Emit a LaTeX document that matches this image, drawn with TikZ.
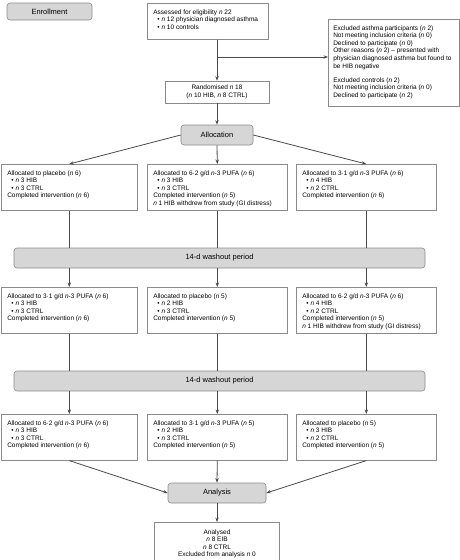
\documentclass[tikz,border=0pt]{standalone}
\usepackage{fontspec}
\setmainfont{Liberation Sans}
\usetikzlibrary{arrows.meta}
\definecolor{boxc}{HTML}{8A8A8A}
\definecolor{arrc}{HTML}{4A4A4A}
\definecolor{gfill}{HTML}{D6D6D6}
\definecolor{gbord}{HTML}{8C8C8C}
\newcommand{\fs}{\fontsize{6.5}{7.6}\selectfont}
\newcommand{\fl}{\fontsize{7.5}{9}\selectfont}
\newcommand{\nn}{\textit{n}}
\newcommand{\bul}{\hspace*{4pt}\textbullet\hspace{2pt}}
\newcommand{\tb}[3]{\parbox[c][#1][t]{#2}{\fs\raggedright #3}}
\tikzset{
  wbox/.style={draw=boxc, line width=0.6pt, fill=white, anchor=north west, inner xsep=6pt, inner ysep=6pt, align=left, font=\fs},
  gbox/.style={draw=gbord, fill=gfill, rounded corners=3pt, line width=0.6pt, font=\fl, inner sep=0pt},
  arr/.style={draw=arrc, line width=0.8pt, -{Stealth[length=4.5pt,width=3.4pt]}},
  ln/.style={draw=arrc, line width=0.8pt}
}
\begin{document}
\begin{tikzpicture}[x=1pt,y=-1pt]
\useasboundingbox[fill=white] (0,0) rectangle (460,560);

% Enrollment
\node[gbox, minimum width=85pt, minimum height=17pt] (enr) at (49.5,11.5) {Enrollment};

% Assessed
\node[wbox] (assess) at (147,3) {\tb{24pt}{109pt}{Assessed for eligibility \nn\ 22\\
\bul\nn\ 12 physician diagnosed asthma\\
\bul\nn\ 10 controls}};

% Excluded
\node[wbox, inner xsep=5pt] (excl) at (328,19) {\tb{75pt}{121pt}{Excluded asthma participants (\nn\ 2)\\
Not meeting inclusion criteria (\nn\ 0)\\
Declined to participate (\nn\ 0)\\
Other reasons (\nn\ 2) -- presented with\\
physician diagnosed asthma but found to\\
be HIB negative\\[6.5pt]
Excluded controls (\nn\ 2)\\
Not meeting inclusion criteria (\nn\ 0)\\
Declined to participate (\nn\ 2)}};

% Randomised
\node[draw=boxc, line width=0.6pt, fill=white, minimum width=104pt, minimum height=22pt, align=center, font=\fs, inner sep=0pt] (rand) at (217,92) {Randomised \nn\ 18\\(\nn\ 10 HIB, \nn\ 8 CTRL)};

% Allocation
\node[gbox, minimum width=72pt, minimum height=20pt] (alloc) at (217,135) {Allocation};

% Row 1
\node[wbox] (r1l) at (1,164) {\tb{34pt}{124pt}{Allocated to placebo (\nn\ 6)\\
\bul\nn\ 3 HIB\\
\bul\nn\ 3 CTRL\\
Completed intervention (\nn\ 6)}};
\node[wbox] (r1m) at (147,164) {\tb{34pt}{128pt}{Allocated to 6·2 g/d \nn-3 PUFA (\nn\ 6)\\
\bul\nn\ 3 HIB\\
\bul\nn\ 3 CTRL\\
Completed intervention (\nn\ 5)\\
\nn\ 1 HIB withdrew from study (GI distress)}};
\node[wbox] (r1r) at (296,164) {\tb{34pt}{128pt}{Allocated to 3·1 g/d \nn-3 PUFA (\nn\ 6)\\
\bul\nn\ 4 HIB\\
\bul\nn\ 2 CTRL\\
Completed intervention (\nn\ 6)}};

% Washout 1
\node[gbox, minimum width=411pt, minimum height=20pt] (w1) at (219.5,258) {14-d washout period};

% Row 2
\node[wbox] (r2l) at (1,287) {\tb{34pt}{124pt}{Allocated to 3·1 g/d \nn-3 PUFA (\nn\ 6)\\
\bul\nn\ 3 HIB\\
\bul\nn\ 3 CTRL\\
Completed intervention (\nn\ 6)}};
\node[wbox] (r2m) at (147,287) {\tb{34pt}{128pt}{Allocated to placebo (\nn\ 5)\\
\bul\nn\ 2 HIB\\
\bul\nn\ 3 CTRL\\
Completed intervention (\nn\ 5)}};
\node[wbox] (r2r) at (296,287) {\tb{34pt}{128pt}{Allocated to 6·2 g/d \nn-3 PUFA (\nn\ 6)\\
\bul\nn\ 4 HIB\\
\bul\nn\ 2 CTRL\\
Completed intervention (\nn\ 5)\\
\nn\ 1 HIB withdrew from study (GI distress)}};

% Washout 2
\node[gbox, minimum width=411pt, minimum height=20pt] (w2) at (219.5,381) {14-d washout period};

% Row 3
\node[wbox] (r3l) at (1,414) {\tb{34pt}{124pt}{Allocated to 6·2 g/d \nn-3 PUFA (\nn\ 6)\\
\bul\nn\ 3 HIB\\
\bul\nn\ 3 CTRL\\
Completed intervention (\nn\ 6)}};
\node[wbox] (r3m) at (147,414) {\tb{34pt}{128pt}{Allocated to 3·1 g/d \nn-3 PUFA (\nn\ 5)\\
\bul\nn\ 2 HIB\\
\bul\nn\ 3 CTRL\\
Completed intervention (\nn\ 5)}};
\node[wbox] (r3r) at (296,414) {\tb{34pt}{128pt}{Allocated to placebo (\nn\ 5)\\
\bul\nn\ 3 HIB\\
\bul\nn\ 2 CTRL\\
Completed intervention (\nn\ 5)}};

% Analysis
\node[gbox, minimum width=98pt, minimum height=20pt] (ana) at (217,493) {Analysis};

% Analysed
\node[draw=boxc, line width=0.6pt, fill=white, anchor=north, inner xsep=6pt, inner ysep=7pt, font=\fs] (fin) at (217,522) {\parbox[c][44pt][t]{113pt}{\centering\fs Analysed\\ \nn\ 8 EIB\\ \nn\ 8 CTRL\\ Excluded from analysis \nn\ 0}};

% Connectors
\coordinate (br) at (217,57);
\draw[arr] (rand.north |- assess.south) -- (rand.north);
\draw[arr] (br) -- (excl.west |- br);
\draw[arr] (rand.south) -- (alloc.north);
\draw[arr] (alloc.west) -- (r1l.north);
\draw[arr] (alloc.south) -- (r1m.north);
\draw[arr] (alloc.east) -- (r1r.north);

\draw[ln] (r1l.south) -- (r1l.south |- w1.north);
\draw[ln] (r1m.south) -- (r1m.south |- w1.north);
\draw[ln] (r1r.south) -- (r1r.south |- w1.north);
\draw[arr] (r2l.north |- w1.south) -- (r2l.north);
\draw[arr] (r2m.north |- w1.south) -- (r2m.north);
\draw[arr] (r2r.north |- w1.south) -- (r2r.north);

\draw[ln] (r2l.south) -- (r2l.south |- w2.north);
\draw[ln] (r2m.south) -- (r2m.south |- w2.north);
\draw[ln] (r2r.south) -- (r2r.south |- w2.north);
\draw[arr] (r3l.north |- w2.south) -- (r3l.north);
\draw[arr] (r3m.north |- w2.south) -- (r3m.north);
\draw[arr] (r3r.north |- w2.south) -- (r3r.north);

\draw[arr] (r3l.south) -- (ana.west);
\draw[arr] (r3m.south) -- (ana.north);
\draw[arr] (r3r.south) -- (ana.east);
\draw[arr] (ana.south) -- (fin.north);
\end{tikzpicture}
\end{document}
